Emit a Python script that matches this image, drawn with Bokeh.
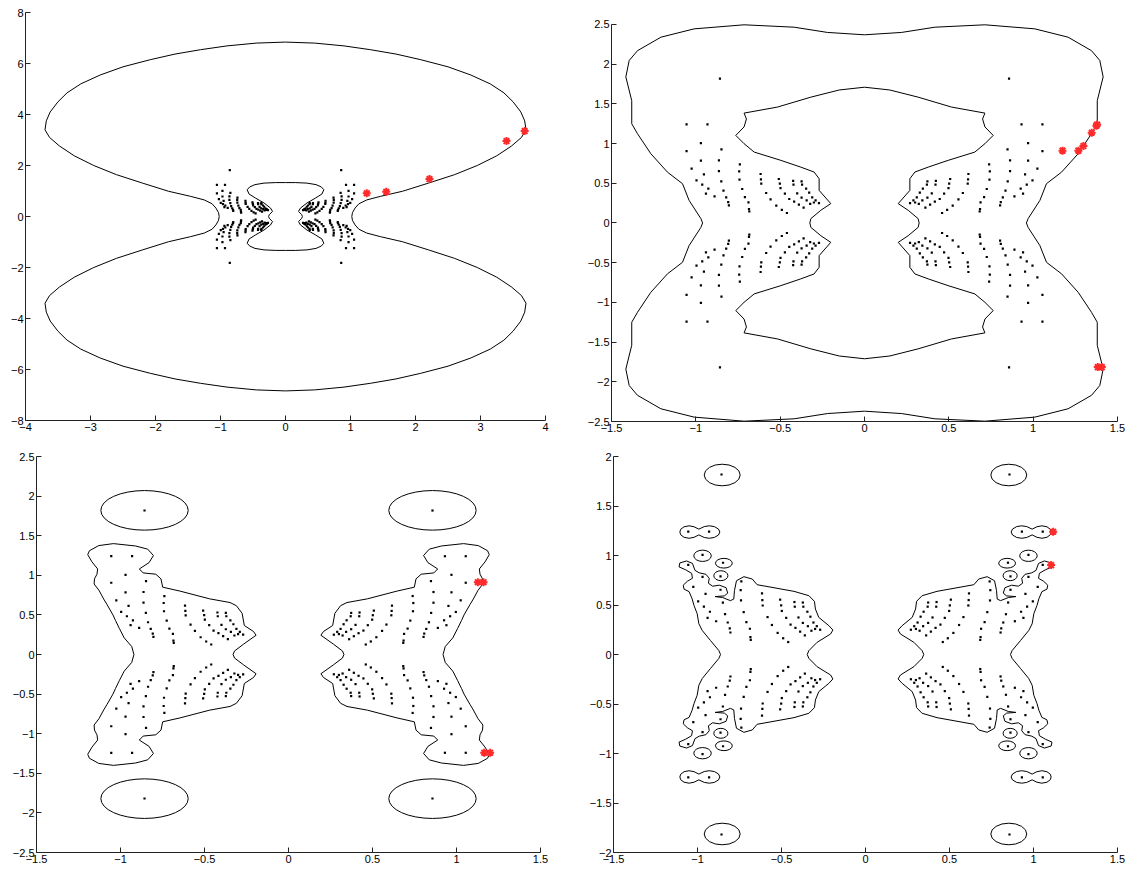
import numpy as np
from bokeh.plotting import figure
from bokeh.layouts import row, column
from bokeh.models import FixedTicker, Range1d
from bokeh.embed import file_html
from bokeh.resources import INLINE

# ---------------- data ----------------
# eigenvalue dots (first quadrant; the set is symmetric in both axes)
dot_x = [0.857, 0.931, 1.055, 0.970, 0.848, 1.055, 0.863, 0.970, 0.739, 1.025,
         0.743, 0.863, 0.616, 0.952, 0.508, 0.614, 0.741, 0.373, 0.423, 0.849,
         0.996, 0.962, 0.370, 0.421, 0.502, 0.498, 0.612, 0.926, 0.346, 0.725,
         0.836, 0.328, 0.399, 0.472, 0.583, 0.940, 0.310, 0.373, 0.446, 0.557,
         0.709, 0.820, 0.889, 0.290, 0.343, 0.417, 0.270, 0.300, 0.322, 0.389,
         0.361, 0.523, 0.688, 0.808, 0.804, 0.490, 0.460, 0.685, 0.683]
dot_y = [1.818, 1.241, 1.241, 1.006, 0.927, 0.906, 0.789, 0.785, 0.738, 0.684,
         0.650, 0.654, 0.617, 0.613, 0.554, 0.550, 0.546, 0.525, 0.530, 0.525,
         0.537, 0.483, 0.483, 0.483, 0.496, 0.440, 0.495, 0.432, 0.432, 0.428,
         0.407, 0.382, 0.374, 0.370, 0.378, 0.370, 0.323, 0.319, 0.302, 0.298,
         0.327, 0.323, 0.336, 0.286, 0.286, 0.269, 0.250, 0.258, 0.240, 0.231,
         0.193, 0.218, 0.260, 0.264, 0.222, 0.164, 0.126, 0.176, 0.147]

# red stars per panel
star_tl_x = [3.68, 3.40, 2.215, 1.55, 1.25]
star_tl_y = [3.35, 2.96, 1.47, 0.97, 0.91]
star_tr_x = [1.174, 1.268, 1.298, 1.347, 1.379, 1.375, 1.383, 1.407]
star_tr_y = [0.911, 0.911, 0.969, 1.137, 1.241, 1.225, -1.815, -1.815]
star_bl_x = [1.127, 1.161, 1.165, 1.200]
star_bl_y = [0.913, 0.913, -1.240, -1.240]
star_br_x = [1.117, 1.105]
star_br_y = [1.240, 0.903]

# contours: first-quadrant arcs (from +x axis to +y axis), symmetric in both axes
tl_outer_x = [1.02, 1.03, 1.07, 1.13, 1.25, 1.46, 1.8, 2.2, 2.6, 2.95, 3.25, 3.48, 3.63,
              3.7, 3.68, 3.62, 3.5, 3.36, 3.15, 2.85, 2.5, 2.08, 1.7, 1.31, 0.9, 0.45, 0.0]
tl_outer_y = [0.0, 0.15, 0.33, 0.5, 0.65, 0.79, 0.99, 1.31, 1.64, 2.0, 2.38, 2.77, 3.1,
              3.4, 3.75, 4.1, 4.5, 4.85, 5.2, 5.55, 5.87, 6.15, 6.37, 6.54, 6.69, 6.8, 6.84]
tl_inner_x = [0.26, 0.25, 0.20, 0.23, 0.33, 0.46, 0.56, 0.59, 0.55, 0.47, 0.33, 0.15, 0.0]
tl_inner_y = [0.0, 0.07, 0.20, 0.33, 0.53, 0.72, 0.88, 1.05, 1.16, 1.25, 1.31, 1.33, 1.33]

tr_outer_x = [0.96, 0.97, 1.04, 1.079, 1.168, 1.267, 1.346, 1.38, 1.38, 1.415, 1.395,
              1.346, 1.207, 1.01, 0.714, 0.417, 0.22, 0.0]
tr_outer_y = [0.0, 0.055, 0.285, 0.495, 0.64, 0.873, 1.125, 1.25, 1.54, 1.84, 2.047,
              2.17, 2.34, 2.445, 2.496, 2.466, 2.40, 2.37]
tr_inner_x = [0.324, 0.318, 0.259, 0.2, 0.269, 0.269, 0.299, 0.378, 0.496, 0.654, 0.714,
              0.763, 0.714, 0.70, 0.714, 0.516, 0.318, 0.15, 0.0]
tr_inner_y = [0.0, 0.055, 0.16, 0.244, 0.411, 0.558, 0.642, 0.704, 0.789, 0.893, 0.999,
              1.103, 1.21, 1.31, 1.384, 1.46, 1.585, 1.675, 1.71]

# right blobs: upper half from inner crossing of y=0 around to outer crossing
bl_blob_x = [0.33, 0.321, 0.268, 0.193, 0.208, 0.263, 0.276, 0.31, 0.348, 0.47, 0.645,
             0.749, 0.759, 0.79, 0.865, 0.888, 0.83, 0.804, 0.838, 0.91, 1.042, 1.13,
             1.185, 1.195, 1.17, 1.136, 1.14, 1.155, 1.157, 1.128, 1.1, 1.08, 1.045,
             1.03, 1.007, 0.978, 0.933, 0.92]
bl_blob_y = [0.0, 0.045, 0.13, 0.243, 0.29, 0.366, 0.52, 0.616, 0.656, 0.703, 0.8,
             0.85, 0.955, 1.014, 1.03, 1.08, 1.16, 1.25, 1.33, 1.37, 1.40, 1.375,
             1.31, 1.26, 1.17, 1.08, 1.014, 0.955, 0.89, 0.81, 0.70, 0.63, 0.50,
             0.43, 0.33, 0.21, 0.10, 0.0]
bl_ell_x = [0.857]
bl_ell_y = [1.82]
bl_ell_w = [0.52]
bl_ell_h = [0.50]

br_blob_x = [0.347, 0.337, 0.288, 0.208, 0.194, 0.218, 0.278, 0.298, 0.304, 0.337, 0.426,
             0.645, 0.674, 0.724, 0.768, 0.78, 0.784, 0.804, 0.85, 0.895, 0.84, 0.82,
             0.83, 0.87, 0.91, 0.935, 0.93, 0.95, 0.99, 1.015, 1.03, 1.065, 1.105, 1.11,
             1.07, 1.035, 1.03, 1.06, 1.085, 1.08, 1.05, 1.032, 1.021, 1.002, 0.992,
             0.972, 0.923, 0.873, 0.863]
br_blob_y = [0.0, 0.039, 0.123, 0.207, 0.247, 0.291, 0.375, 0.459, 0.537, 0.594, 0.638,
             0.705, 0.762, 0.786, 0.745, 0.645, 0.56, 0.544, 0.575, 0.585, 0.592, 0.62,
             0.675, 0.70, 0.69, 0.72, 0.77, 0.81, 0.825, 0.85, 0.92, 0.945, 0.925, 0.885,
             0.855, 0.82, 0.77, 0.74, 0.70, 0.66, 0.635, 0.563, 0.496, 0.412, 0.311,
             0.243, 0.142, 0.04, 0.0]
br_ell_x = [0.853, 0.970, 0.843, 0.861]
br_ell_y = [1.813, 0.997, 0.922, 0.796]
br_ell_w = [0.214, 0.104, 0.100, 0.084]
br_ell_h = [0.218, 0.114, 0.098, 0.100]
# figure-eight around the pair of dots at y = 1.24 (upper half, relative to its centre)
f8_cx, f8_cy = 0.986, 1.237
f8_dx = [-0.119, -0.111, -0.086, -0.056, -0.026, 0.006, 0.034, 0.064, 0.094, 0.114, 0.119]
f8_dy = [0.0, 0.03, 0.055, 0.063, 0.055, 0.029, 0.053, 0.063, 0.053, 0.028, 0.0]

# ticks
tl_xticks = [-4, -3, -2, -1, 0, 1, 2, 3, 4]
tl_yticks = [-8, -6, -4, -2, 0, 2, 4, 6, 8]
half_ticks_15 = [-1.5, -1, -0.5, 0, 0.5, 1, 1.5]
half_ticks_25 = [-2.5, -2, -1.5, -1, -0.5, 0, 0.5, 1, 1.5, 2, 2.5]
half_ticks_2 = [-2, -1.5, -1, -0.5, 0, 0.5, 1, 1.5, 2]


# ---------------- helpers ----------------
def four_fold(xs, ys):
    xs = np.asarray(xs, float); ys = np.asarray(ys, float)
    X = np.concatenate([xs, -xs[::-1], -xs, xs[::-1]])
    Y = np.concatenate([ys, ys[::-1], -ys, -ys[::-1]])
    return X, Y


def blob(xs, ys):
    xs = np.asarray(xs, float); ys = np.asarray(ys, float)
    return np.concatenate([xs, xs[::-1]]), np.concatenate([ys, -ys[::-1]])


def quad_pts(xs, ys):
    xs = np.asarray(xs, float); ys = np.asarray(ys, float)
    return (np.concatenate([xs, -xs, -xs, xs]), np.concatenate([ys, ys, -ys, -ys]))


def lab(v):
    return ("%g" % v).replace("-", "\u2212")


def make_fig(xr, yr, xt, yt, fw, fh, bl, br, bt, bb, ybounds=None):
    p = figure(x_range=Range1d(*xr), y_range=Range1d(*yr), frame_width=fw, frame_height=fh,
               min_border_left=bl, min_border_right=br, min_border_top=bt, min_border_bottom=bb,
               output_backend="svg", toolbar_location=None, tools="")
    p.grid.visible = False
    p.outline_line_color = None
    p.background_fill_color = "white"
    p.border_fill_color = "white"
    for ax, ticks in ((p.xaxis[0], xt), (p.yaxis[0], yt)):
        ax.ticker = FixedTicker(ticks=ticks)
        ax.major_label_overrides = {t: lab(t) for t in ticks}
        ax.axis_line_color = "#222222"
        ax.axis_line_width = 1
        ax.major_tick_line_color = "#222222"
        ax.major_tick_in = 5
        ax.major_tick_out = 0
        ax.minor_tick_line_color = None
        ax.major_label_standoff = 2
        ax.major_label_text_font = "Liberation Sans"
        ax.major_label_text_font_size = "11px"
        ax.major_label_text_color = "black"
    if ybounds is not None:
        p.yaxis[0].bounds = ybounds
    return p


def add_dots(p):
    X, Y = quad_pts(dot_x, dot_y)
    p.scatter(X, Y, marker="square", size=2.2, fill_color="black", line_color=None)


def add_stars(p, sx, sy):
    p.scatter(sx, sy, marker="asterisk", size=8, line_color="#ff2a2a", line_width=2)


LW = 1.0
# ---------------- panel 1 ----------------
p1 = make_fig((-4, 4), (-8, 8), tl_xticks, tl_yticks, 520, 408, 25, 25, 12, 18)
X, Y = four_fold(tl_outer_x, tl_outer_y)
p1.line(X, Y, line_color="black", line_width=LW)
X, Y = four_fold(tl_inner_x, tl_inner_y)
p1.line(X, Y, line_color="black", line_width=LW)
add_dots(p1)
add_stars(p1, star_tl_x, star_tl_y)

# ---------------- panel 2 ----------------
# frame top is shared with panel 1, so the y range extends a little above 2.5
p2 = make_fig((-1.5, 1.5), (-2.5, 2.651), half_ticks_15, half_ticks_25, 506, 409, 41, 10, 12, 17,
              ybounds=(-2.5, 2.5))
X, Y = four_fold(tr_outer_x, tr_outer_y)
p2.line(X, Y, line_color="black", line_width=LW)
X, Y = four_fold(tr_inner_x, tr_inner_y)
p2.line(X, Y, line_color="black", line_width=LW)
add_dots(p2)
add_stars(p2, star_tr_x, star_tr_y)

# ---------------- panel 3 ----------------
p3 = make_fig((-1.5, 1.5), (-2.5, 2.5), half_ticks_15, half_ticks_25, 504, 396, 36, 33, 18, 16)
X, Y = blob(bl_blob_x, bl_blob_y)
p3.line(X, Y, line_color="black", line_width=LW)
p3.line(-X, Y, line_color="black", line_width=LW)
ex, ey = quad_pts(bl_ell_x, bl_ell_y)
p3.ellipse(ex, ey, width=bl_ell_w * 4, height=bl_ell_h * 4, fill_color=None,
           line_color="black", line_width=LW)
add_dots(p3)
add_stars(p3, star_bl_x, star_bl_y)

# ---------------- panel 4 ----------------
p4 = make_fig((-1.5, 1.5), (-2, 2), half_ticks_15, half_ticks_2, 504, 396, 40, 10, 18, 16)
X, Y = blob(br_blob_x, br_blob_y)
p4.line(X, Y, line_color="black", line_width=LW)
p4.line(-X, Y, line_color="black", line_width=LW)
ex, ey = quad_pts(br_ell_x, br_ell_y)
p4.ellipse(ex, ey, width=br_ell_w * 4, height=br_ell_h * 4, fill_color=None,
           line_color="black", line_width=LW)
fdx, fdy = blob(f8_dx, f8_dy)
for sx in (1, -1):
    for sy in (1, -1):
        p4.line(sx * (f8_cx + fdx), sy * f8_cy + fdy, line_color="black", line_width=LW)
add_dots(p4)
add_stars(p4, star_br_x, star_br_y)

layout = column(row(p1, p2), row(p3, p4))
open("out.html", "w").write(file_html(layout, INLINE))
